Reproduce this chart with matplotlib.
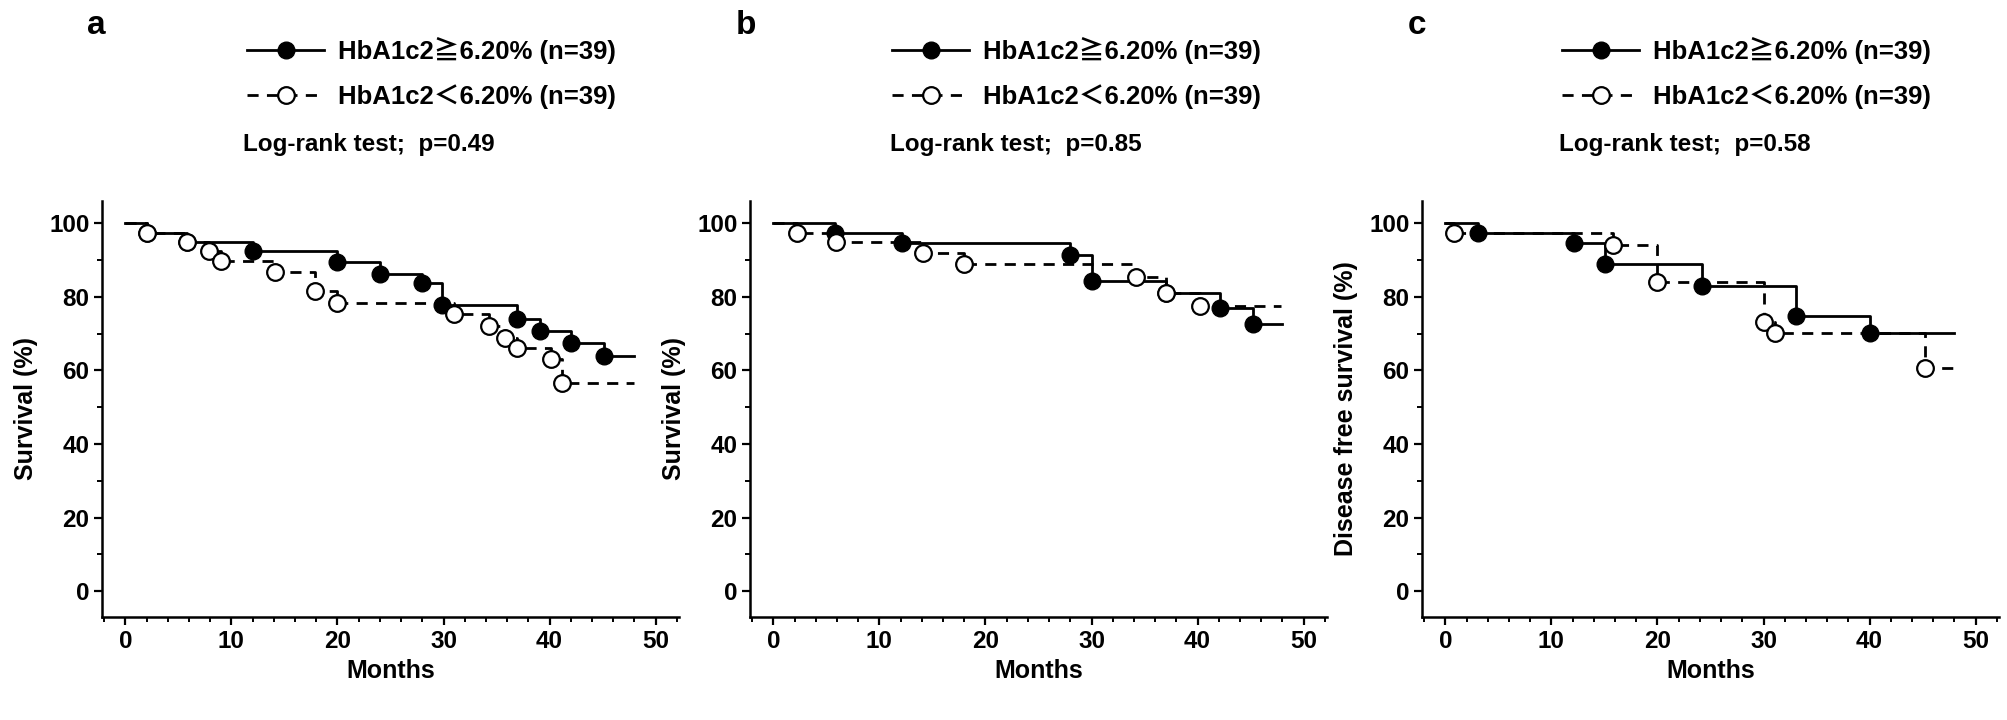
import matplotlib
matplotlib.use("Agg")
import matplotlib.pyplot as plt
from matplotlib.ticker import MultipleLocator

plt.rcParams["font.family"] = ["Liberation Sans Narrow", "Liberation Sans", "Noto Sans CJK JP", "DejaVu Sans"]
plt.rcParams["font.weight"] = "bold"
plt.rcParams["axes.labelweight"] = "bold"

# Kaplan-Meier steps (months, survival %)
a_hi_t = [0, 2.05, 5.8, 12.0, 20.0, 24.0, 28.0, 29.9, 36.9, 39.1, 42.0, 45.1, 48.0]
a_hi_s = [100, 97.4, 94.9, 92.3, 89.5, 86.3, 83.8, 77.8, 73.9, 70.6, 67.4, 64.0, 64.0]
a_lo_t = [0, 2.05, 5.8, 7.9, 9.0, 14.1, 17.9, 20.0, 31.0, 34.3, 35.8, 36.9, 40.1, 41.2, 48.0]
a_lo_s = [100, 97.4, 94.9, 92.3, 89.6, 86.6, 81.5, 78.2, 75.4, 72.0, 68.8, 66.0, 63.2, 56.6, 56.6]

b_hi_t = [0, 5.8, 12.1, 28.0, 30.0, 37.0, 42.1, 45.2, 48.0]
b_hi_s = [100, 97.4, 94.7, 91.2, 84.4, 81.1, 76.8, 72.7, 72.7]
b_lo_t = [0, 2.2, 5.9, 14.1, 18.0, 34.2, 37.0, 40.2, 47.9]
b_lo_s = [100, 97.4, 94.8, 91.8, 88.9, 85.4, 80.9, 77.6, 77.6]

c_hi_t = [0, 3.1, 12.1, 15.1, 24.2, 33.1, 40.0, 48.0]
c_hi_s = [100, 97.4, 94.6, 88.9, 82.8, 74.7, 70.1, 70.1]
c_lo_t = [0, 0.8, 15.8, 20.0, 30.0, 31.1, 45.2, 47.9]
c_lo_s = [100, 97.4, 94.0, 84.0, 73.0, 70.1, 60.7, 60.7]

x_ticks = [0, 10, 20, 30, 40, 50]
y_ticks = [0, 20, 40, 60, 80, 100]
panel_letters = ["a", "b", "c"]
p_values = ["0.49", "0.85", "0.58"]
y_labels = ["Survival (%)", "Survival (%)", "Disease free survival (%)"]
label_hi = "HbA1c2≧6.20% (n=39)"
label_lo = "HbA1c2＜6.20% (n=39)"

panels = [
    (a_hi_t, a_hi_s, a_lo_t, a_lo_s),
    (b_hi_t, b_hi_s, b_lo_t, b_lo_s),
    (c_hi_t, c_hi_s, c_lo_t, c_lo_s),
]

W, H = 2008, 720
fig = plt.figure(figsize=(W / 100, H / 100), dpi=100)

ax_left = [102, 750, 1422]
ax_w = 577
ax_top, ax_bot = 201, 617
letter_x = [96, 746, 1417]
legend_x = [247, 892, 1562]
logrank_x = [243, 890, 1559]

for i, (hi_t, hi_s, lo_t, lo_s) in enumerate(panels):
    ax = fig.add_axes([ax_left[i] / W, 1 - ax_bot / H, ax_w / W, (ax_bot - ax_top) / H])

    line_hi, = ax.step(hi_t, hi_s, where="post", color="black", lw=2.0, zorder=3)
    line_lo, = ax.step(lo_t, lo_s, where="post", color="black", lw=2.0,
                       linestyle=(0, (4, 3)), zorder=2)
    mk_hi, = ax.plot(hi_t[1:-1], hi_s[1:-1], "o", ms=12, mfc="black", mec="black", zorder=4)
    mk_lo, = ax.plot(lo_t[1:-1], lo_s[1:-1], "o", ms=12, mfc="white", mec="black",
                     mew=1.6, zorder=5)

    ax.set_xlim(-2.2, 52.2)
    ax.set_ylim(-7, 106)
    ax.set_xticks(x_ticks)
    ax.set_xticklabels([str(v) for v in x_ticks], fontsize=17.5, fontweight="bold")
    ax.set_yticks(y_ticks)
    ax.set_yticklabels([str(v) for v in y_ticks], fontsize=17.5, fontweight="bold")
    ax.xaxis.set_minor_locator(MultipleLocator(2))
    ax.yaxis.set_minor_locator(MultipleLocator(10))
    for s in ["top", "right"]:
        ax.spines[s].set_visible(False)
    for s in ["left", "bottom"]:
        ax.spines[s].set_linewidth(1.8)
    ax.tick_params(which="major", direction="out", length=6, width=1.6)
    ax.tick_params(which="minor", direction="out", length=3.5, width=1.4)
    ax.tick_params(axis="x", pad=3)
    ax.tick_params(axis="y", pad=3)
    ax.set_xlabel("Months", fontsize=18, labelpad=5)
    ax.set_ylabel(y_labels[i], fontsize=18, labelpad=8)

    ax.legend([(line_hi, mk_hi), (line_lo, mk_lo)], [label_hi, label_lo],
              loc="upper left", bbox_to_anchor=(legend_x[i] / W, 1 - 37 / H),
              bbox_transform=fig.transFigure, frameon=False, fontsize=18.5,
              handlelength=3.0, handletextpad=0.55, labelspacing=0.78,
              borderpad=0, borderaxespad=0, numpoints=1)

    fig.text(logrank_x[i] / W, 1 - 145 / H, f"Log-rank test;  p={p_values[i]}",
             fontsize=17.5, va="center", ha="left")
    fig.text(letter_x[i] / W, 1 - 26 / H, panel_letters[i], fontsize=24,
             va="center", ha="center", family=["Liberation Sans", "DejaVu Sans"])

fig.savefig("out.png", dpi=100)
